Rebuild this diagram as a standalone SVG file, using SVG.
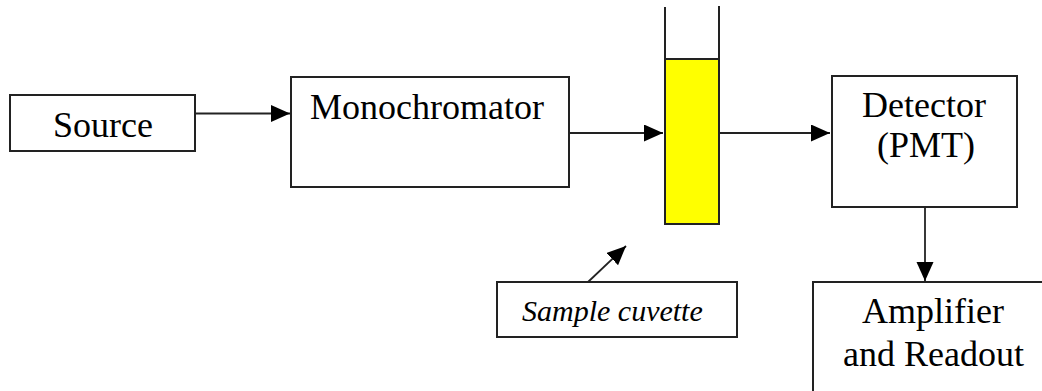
<svg xmlns="http://www.w3.org/2000/svg" width="1042" height="391" viewBox="0 0 1042 391">
<style>
.box{fill:#fff;stroke:#222;stroke-width:2}
.c{fill:none;stroke:#222;stroke-width:1.8}
</style>
<defs>
<marker id="ah" markerUnits="userSpaceOnUse" markerWidth="20" markerHeight="18" refX="19" refY="8.5" orient="auto">
<path d="M0,0 L19,8.5 L0,17 Z" fill="#000"/>
</marker>
</defs>
<rect width="1042" height="391" fill="#fff"/>
<g id="source">
<rect class="box" x="10" y="95" width="185" height="56"/>
<text font-family="Liberation Serif" font-size="36" x="53" y="137">Source</text>
</g>
<g id="monochromator">
<rect class="box" x="291" y="77" width="278" height="110"/>
<text font-family="Liberation Serif" font-size="36" x="310" y="119">Monochromator</text>
</g>
<g id="cuvette">
<rect x="665" y="59" width="54" height="165" fill="#ffff00" stroke="#222" stroke-width="2"/>
<line x1="665" y1="7" x2="665" y2="59" stroke="#222" stroke-width="2"/>
<line x1="719" y1="6" x2="719" y2="59" stroke="#222" stroke-width="2"/>
</g>
<g id="detector">
<rect class="box" x="832" y="76" width="185" height="131"/>
<text font-family="Liberation Serif" font-size="36" x="862" y="117">Detector</text>
<text font-family="Liberation Serif" font-size="36" x="877" y="157">(PMT)</text>
</g>
<g id="amplifier">
<rect class="box" x="813" y="282" width="240" height="120"/>
<text font-family="Liberation Serif" font-size="36" x="862" y="323">Amplifier</text>
<text font-family="Liberation Serif" font-size="36" x="843" y="366">and Readout</text>
</g>
<g id="sample-label">
<rect class="box" x="497" y="282" width="240" height="55"/>
<text font-family="Liberation Serif" font-style="italic" font-size="30" x="522" y="321">Sample cuvette</text>
</g>
<g id="connectors">
<line class="c" x1="195" y1="113.5" x2="290" y2="113.5" marker-end="url(#ah)"/>
<line class="c" x1="569" y1="133" x2="663" y2="133" marker-end="url(#ah)"/>
<line class="c" x1="719" y1="133" x2="830" y2="133" marker-end="url(#ah)"/>
<line class="c" x1="925" y1="207" x2="925" y2="281" marker-end="url(#ah)"/>
<line class="c" x1="588" y1="282" x2="626" y2="246" marker-end="url(#ah)"/>
</g>
</svg>
